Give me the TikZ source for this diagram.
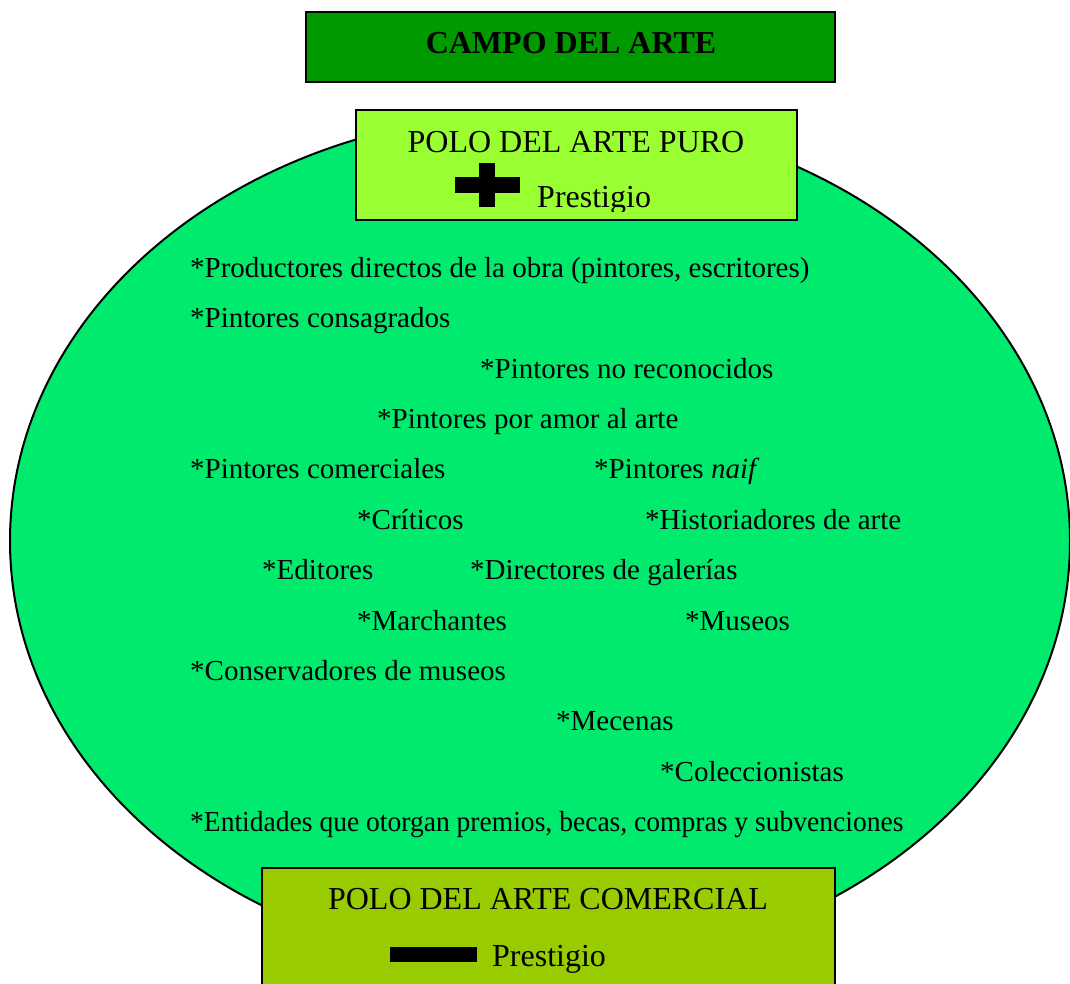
\documentclass[tikz,border=0pt]{standalone}
\usepackage{fontspec}
\setmainfont{Liberation Serif}
\usetikzlibrary{positioning}
\definecolor{campo}{RGB}{0,153,0}
\definecolor{elipse}{RGB}{0,235,110}
\definecolor{puro}{RGB}{153,255,51}
\definecolor{comercial}{RGB}{153,204,0}

\begin{document}
\begin{tikzpicture}[x=1pt,y=-1pt,
        caja/.style={draw,line width=2pt},
        item/.style={anchor=base west,inner sep=0pt,font=\fontsize{29}{33}\selectfont},
        polo/.style={anchor=base,inner sep=0pt,font=\fontsize{32}{36}\selectfont}]
        \useasboundingbox (0,0) rectangle (1070,983);
        
        % El campo
        \draw[line width=2pt,fill=elipse] (540,541) ellipse (530 and 428);
        
        \draw[caja,fill=campo] (306,12) rectangle (835,82);
        \node[polo,font=\fontsize{32}{36}\selectfont\bfseries] (titulo) at (571,53) {CAMPO DEL ARTE};
        
        % Polo del arte puro
        \draw[caja,fill=puro] (356,110) rectangle (797,220);
        \node[polo] (puro) at (576,152) {POLO DEL ARTE PURO};
        \fill (455,177) rectangle (520,193);
        \fill (479,163) rectangle (495,207);
        \begin{scope}
            \clip (357,111) rectangle (796,211);
            \node[polo,anchor=base west] (prespuro) at (537,207) {Prestigio};
        \end{scope}
        
        % Agentes
        \node[item] (prod) at (190,277) {*Productores directos de la obra (pintores, escritores)};
        \node[item] (consag) at (190,327) {*Pintores consagrados};
        \node[item] (noreco) at (480,378) {*Pintores no reconocidos};
        \node[item] (amor) at (377,428) {*Pintores por amor al arte};
        \node[item] (comerc) at (190,478) {*Pintores comerciales};
        \node[item] (naif) at (594,478) {*Pintores \textit{naif}};
        \node[item] (critic) at (357,529) {*Críticos};
        \node[item] (histor) at (645,529) {*Historiadores de arte};
        \node[item] (edit) at (262,579) {*Editores};
        \node[item] (direct) at (470,579) {*Directores de galerías};
        \node[item] (march) at (357,630) {*Marchantes};
        \node[item] (museos) at (685,630) {*Museos};
        \node[item] (conserv) at (190,680) {*Conservadores de museos};
        \node[item] (mecen) at (556,730) {*Mecenas};
        \node[item] (colecc) at (660,781) {*Coleccionistas};
        \node[item] (entid) at (190,831) {\scalebox{0.95}[1]{*Entidades que otorgan premios, becas, compras y subvenciones}};
        
        % Polo del arte comercial
        \draw[caja,fill=comercial] (262,868) rectangle (835,995);
        \node[polo] (comercial) at (548,909) {POLO DEL ARTE COMERCIAL};
        \fill (390,947) rectangle (477,962);
        \node[polo,anchor=base west] (prescom) at (492,966) {Prestigio};
    \end{tikzpicture}
\end{document}
